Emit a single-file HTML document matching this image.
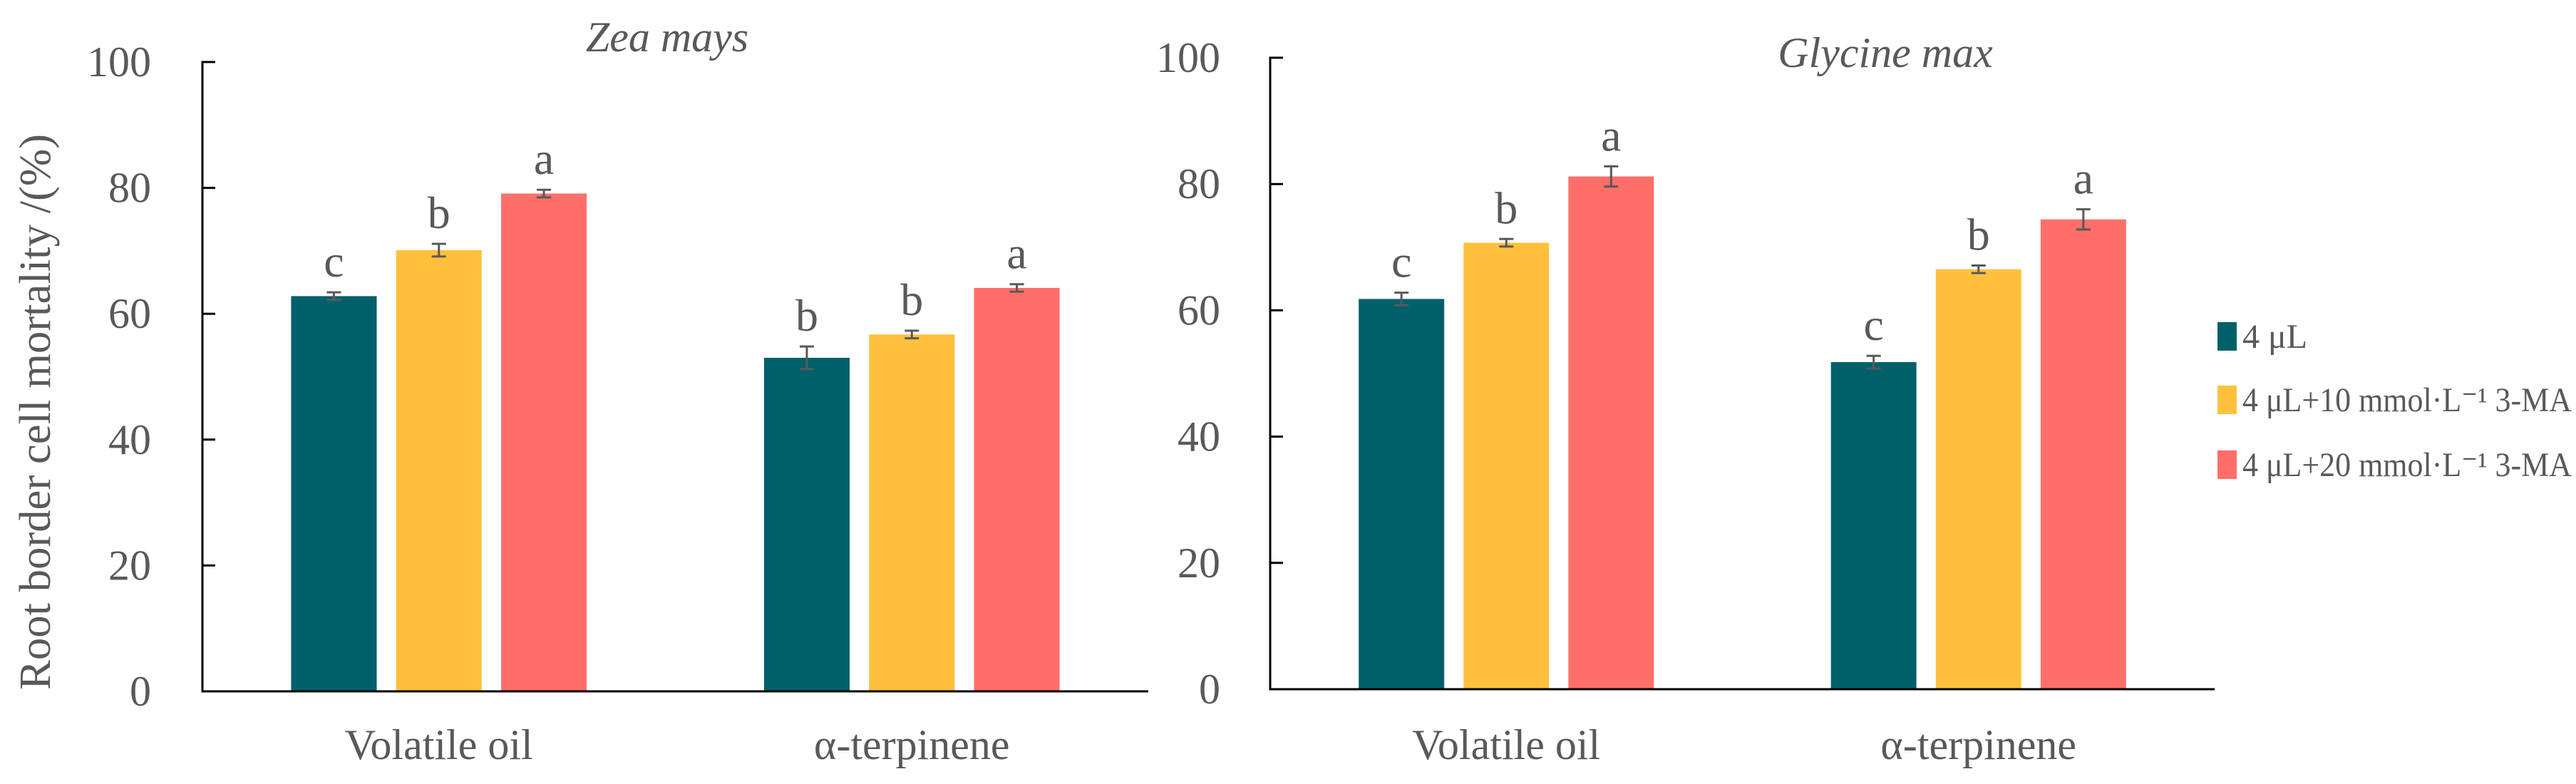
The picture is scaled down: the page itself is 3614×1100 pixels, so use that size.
<!DOCTYPE html>
<html><head><meta charset="utf-8"><style>
html,body{margin:0;padding:0;background:#fff;}
svg{display:block;}
text{font-family:"Liberation Serif",serif;fill:#595959;}
</style></head><body>
<svg id="chart" width="3614" height="1100" viewBox="0 0 3614 1100" xmlns="http://www.w3.org/2000/svg">
<text x="0" y="0" font-size="62" text-anchor="middle" textLength="780" lengthAdjust="spacingAndGlyphs" transform="translate(70,578) rotate(-90)">Root border cell mortality /(%)</text>
<g>
<rect x="3111" y="452" width="27" height="40" fill="#00606A"/>
<text x="3146" y="488" font-size="48">4 μL</text>
<rect x="3111" y="541" width="27" height="40" fill="#FFC13D"/>
<text x="3146" y="577" font-size="48" textLength="462" lengthAdjust="spacingAndGlyphs">4 μL+10 mmol·L⁻¹ 3-MA</text>
<rect x="3111" y="632" width="27" height="40" fill="#FF6F69"/>
<text x="3146" y="668" font-size="48" textLength="462" lengthAdjust="spacingAndGlyphs">4 μL+20 mmol·L⁻¹ 3-MA</text>
</g>
</svg>
<script>
const categories = ["Volatile oil", "α-terpinene"];
const seriesNames = ["4 μL", "4 μL+10 mmol·L⁻¹ 3-MA", "4 μL+20 mmol·L⁻¹ 3-MA"];
const yTicks = [0, 20, 40, 60, 80, 100];
const zeaValues = [[62.8, 53.0], [70.1, 56.7], [79.1, 64.1]];
const zeaErrors = [[0.6, 1.8], [1.0, 0.6], [0.6, 0.6]];
const zeaLetters = [["c", "b"], ["b", "b"], ["a", "a"]];
const glyValues = [[61.8, 51.8], [70.7, 66.5], [81.2, 74.4]];
const glyErrors = [[1.0, 1.0], [0.6, 0.6], [1.6, 1.6]];
const glyLetters = [["c", "c"], ["b", "b"], ["a", "a"]];
const colors = ["#00606A", "#FFC13D", "#FF6F69"];
const NS = "http://www.w3.org/2000/svg";
const svg = document.getElementById('chart');
function mk(tag, attrs, parent){const e=document.createElementNS(NS,tag);for(const k in attrs)e.setAttribute(k,attrs[k]);(parent||svg).appendChild(e);return e;}
function panel(id, title, titleX, titleY, x0, x1, yTop, yBot, labelX, values, errors, letters){
  const g = mk('g', {});
  
  
  const ys = v => yBot - (v/100)*(yBot-yTop);
  const catW = (x1-x0)/categories.length;
  const t = mk('text', {x:titleX, y:titleY, 'font-size':60, 'font-style':'italic', 'text-anchor':'middle'}, g);
  t.textContent = title;
  
  
  yTicks.forEach(v=>{
    const tk = mk('line', {x1:x0, x2:x0+18, y1:ys(v), y2:ys(v), stroke:'#000', 'stroke-width':3}, g);
    
    
    const tl = mk('text', {x:labelX, y:ys(v)+20, 'font-size':60, 'text-anchor':'end'}, g);
    tl.textContent = v;
    
    
  });
  categories.forEach((c,ci)=>{
    const cx = x0 + catW*(ci+0.5);
    const step = catW*0.222, bw = catW*0.181;
    seriesNames.forEach((s,si)=>{
      const bx = cx + (si-1)*step - bw/2;
      const v = values[si][ci], e = errors[si][ci];
      const r = mk('rect', {x:bx, y:ys(v), width:bw, height:yBot-ys(v), fill:colors[si]}, g);
      
      
      const mx = bx + bw/2;
      const eb = mk('path', {d:`M${mx-10},${ys(v+e)}H${mx+10}M${mx},${ys(v+e)}V${ys(v-e)}M${mx-10},${ys(v-e)}H${mx+10}`, stroke:'#595959', 'stroke-width':3, fill:'none'}, g);
      
      
      const lt = mk('text', {x:mx, y:ys(v+e)-22, 'font-size':64, 'text-anchor':'middle'}, g);
      lt.textContent = letters[si][ci];
      
      
    });
    const cl = mk('text', {x:cx, y:1065, 'font-size':60, 'text-anchor':'middle'}, g);
    cl.textContent = c;
    
    
  });
  const ax = mk('path', {d:`M${x0+18},${yTop}H${x0}V${yBot}H${x1}`, stroke:'#000', 'stroke-width':3, fill:'none'}, g);
  
  
}
panel('zea', 'Zea mays', 936, 72, 284, 1611, 87, 970, 212, zeaValues, zeaErrors, zeaLetters);
panel('glycine', 'Glycine max', 2645, 94, 1782, 3107, 81, 967, 1712, glyValues, glyErrors, glyLetters);
</script>
</body></html>
